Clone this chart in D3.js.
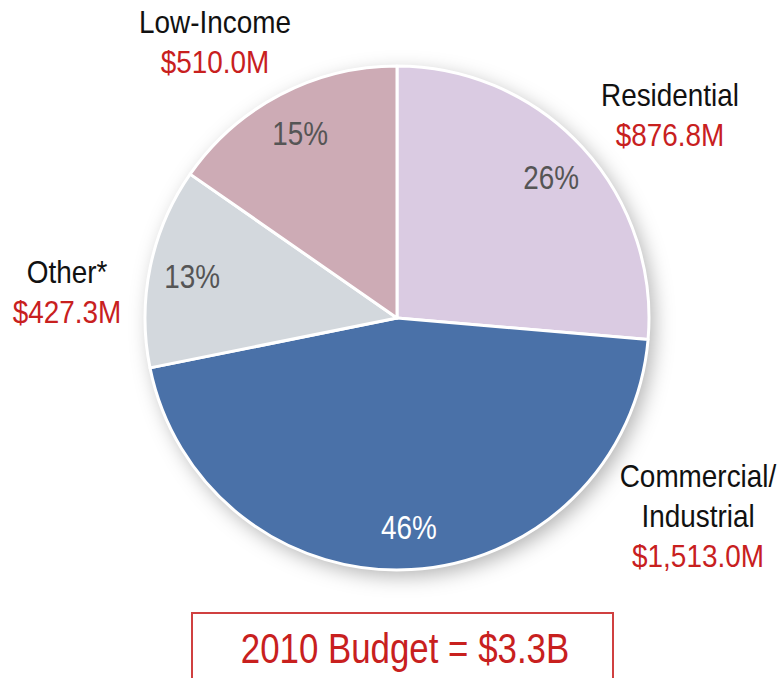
<!DOCTYPE html>
<html>
<head>
<meta charset="UTF-8">
<style>
  body { margin: 0; background: #fff; }
  svg text { font-family: "Liberation Sans", Arial, sans-serif; }
</style>
</head>
<body>
<svg></svg>
<script src="https://d3js.org/d3.v7.min.js"></script>
<script>
    // chart data
    const categories = ["Residential", "Commercial/Industrial", "Other*", "Low-Income"];
    const budgetM = [876.8, 1513.0, 427.3, 510.0];
    const shareLabels = ["26%", "46%", "13%", "15%"];
    const amountLabels = ["$876.8M", "$1,513.0M", "$427.3M", "$510.0M"];
    const nameLines = [["Residential"], ["Commercial/", "Industrial"], ["Other*"], ["Low-Income"]];
    const totalLabel = "2010 Budget = $3.3B";

    const width = 780, height = 678;
    const cx = 397, cy = 318, r = 252;

    const svg = d3.select("svg")
        .attr("width", width)
        .attr("height", height);

    const color = d3.scaleOrdinal()
        .domain(categories)
        .range(["#dacbe2", "#4a71a8", "#d3d8dd", "#cdabb5"]);

    const textColor = d3.scaleOrdinal()
        .domain(categories)
        .range(["#555", "#fff", "#555", "#555"]);

    // no narrow font installed, so squeeze Liberation Sans horizontally
    function narrowText(sel, x, y, sx) {
        return sel.append("text")
            .attr("transform", `translate(${x},${y}) scale(${sx},1)`)
            .attr("text-anchor", "middle");
    }

    // soft shadow under the pie
    const defs = svg.append("defs");
    const f = defs.append("filter").attr("id", "shadow")
        .attr("x", "-20%").attr("y", "-20%").attr("width", "140%").attr("height", "140%");
    f.append("feDropShadow")
        .attr("dx", 5).attr("dy", 6)
        .attr("stdDeviation", 10)
        .attr("flood-color", "#000")
        .attr("flood-opacity", 0.3);

    const pie = d3.pie().sort(null).value(d => d.value);
    const arcs = pie(categories.map((c, i) => ({ name: c, value: budgetM[i], i: i })));

    const arc = d3.arc().innerRadius(0).outerRadius(r);
    const labelArc = d3.arc().innerRadius(r * 0.83).outerRadius(r * 0.83);

    const g = svg.append("g").attr("transform", `translate(${cx},${cy})`);

    g.append("circle")
        .attr("r", r)
        .attr("fill", "#fff")
        .attr("filter", "url(#shadow)");

    g.selectAll("path")
        .data(arcs)
        .join("path")
        .attr("d", arc)
        .attr("fill", d => color(d.data.name))
        .attr("stroke", "#fff")
        .attr("stroke-width", 3)
        .attr("stroke-linejoin", "round");

    arcs.forEach(d => {
        const [px, py] = labelArc.centroid(d);
        narrowText(g, px, py, 0.82)
            .attr("dy", "0.36em")
            .attr("font-size", 34)
            .attr("fill", textColor(d.data.name))
            .text(shareLabels[d.data.i]);
    });

    // outside labels, placed by hand like the original
    const outside = [
        { x: 670, y: 106 },
        { x: 698, y: 487 },
        { x: 67, y: 283 },
        { x: 215, y: 33 }
    ];
    const lineH = 40;

    categories.forEach((c, i) => {
        const t = narrowText(svg, outside[i].x, outside[i].y, 0.9)
            .attr("font-size", 31);
        nameLines[i].forEach((s, j) => {
            t.append("tspan")
                .attr("x", 0)
                .attr("y", j * lineH)
                .attr("fill", "#111")
                .text(s);
        });
        t.append("tspan")
            .attr("x", 0)
            .attr("y", nameLines[i].length * lineH)
            .attr("fill", "#c8201e")
            .text(amountLabels[i]);
    });

    // budget total box
    svg.append("rect")
        .attr("x", 192).attr("y", 613)
        .attr("width", 421).attr("height", 80)
        .attr("fill", "none")
        .attr("stroke", "#d04040")
        .attr("stroke-width", 2);

    narrowText(svg, 405, 663, 0.83)
        .attr("font-size", 42)
        .attr("fill", "#c8201e")
        .text(totalLabel);
</script>
</body>
</html>
